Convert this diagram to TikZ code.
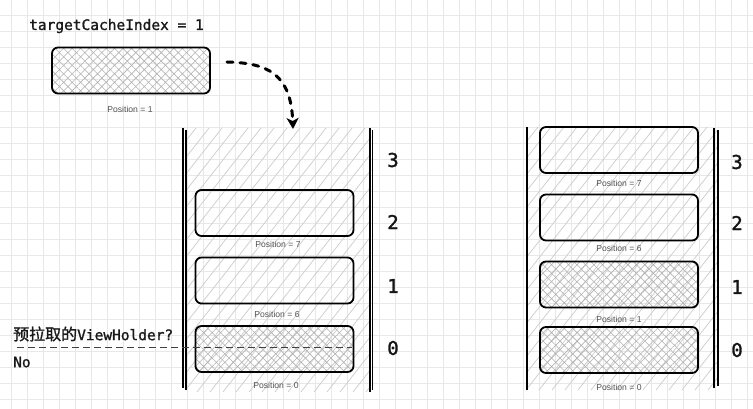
\documentclass[tikz,border=0pt]{standalone}
\usepackage{fontspec}
\usetikzlibrary{patterns.meta,arrows.meta}
\newfontfamily\monof[FakeBold=1.2]{DejaVu Sans Mono}
\newfontfamily\monobf[FakeBold=1.6]{DejaVu Sans Mono}
\newfontfamily\cjkf[FakeBold=1.2]{Noto Sans CJK SC}
\newfontfamily\labf{Liberation Sans}
\begin{document}
\begin{tikzpicture}[x=1pt,y=-1pt,
  slot/.style={draw=black, line width=1.8pt, rounded corners=6pt, minimum width=158pt, minimum height=46pt, inner sep=0pt},
  cached/.style={slot, pattern={Hatch[angle=45,distance=6pt,line width=0.6pt]}, pattern color=black!30},
  poslabel/.style={font=\labf\fontsize{8.6}{10}\selectfont, text=black!68, inner sep=0pt},
  idx/.style={font=\monobf\fontsize{19}{22}\selectfont, inner sep=0pt, text=black!92},
  monotext/.style={font=\monof\fontsize{14.5}{17}\selectfont, inner sep=0pt, anchor=west, text=black!90},
  gridline/.style={draw=black!9, line width=0.7pt},
  wall/.style={draw=black, line width=1.3pt},
  hatchline/.style={draw=black!20, line width=0.7pt},
]
\useasboundingbox (0,0) rectangle (753,409);
\fill[white] (0,0) rectangle (753,409);
\foreach \gx in {0,...,46} \draw[gridline] ({11.7+16*\gx},0) -- ({11.7+16*\gx},409);
\foreach \gy in {0,...,24} \draw[gridline] (0,{15+16*\gy}) -- (753,{15+16*\gy});

% stack backgrounds (diagonal hatch)
\begin{scope}
  \clip (186,128) rectangle (371,392);
  \foreach \k in {0,...,36} \draw[hatchline] ({-50+13*\k},392) -- ({-50+13*\k+207},128);
\end{scope}
\begin{scope}
  \clip (528,127) rectangle (717,390);
  \foreach \k in {0,...,36} \draw[hatchline] ({292+13*\k},390) -- ({292+13*\k+207},127);
\end{scope}

% walls
\draw[wall] (183,128) -- (183,388);
\draw[wall] (186,130) -- (186,390);
\draw[wall] (370,128) -- (370,392);
\draw[wall] (372.5,130) -- (372.5,390);
\draw[wall] (527,127) -- (527,390);
\draw[wall] (714,128) -- (714,388);
\draw[wall] (718,130) -- (718,386);

% title and pending holder
\node[monotext] (title) at (29,26) {targetCacheIndex = 1};
\node[cached] (pending) at (131,70.5) {};
\node[poslabel] (pendinglabel) at (130,109) {Position = 1};

% arrow
\coordinate (arrowstart) at (227,62);
\coordinate (arrowend) at (293,129);
\draw[line width=3pt, line cap=round, dash pattern=on 6pt off 7pt, -{Stealth[length=11pt,width=12pt,inset=3pt]}] (arrowstart) .. controls (268,63) and (291,74) .. (arrowend);

% left stack
\node[slot] (l2) at (274.5,213) {};
\node[poslabel] (l2lab) at (278,244) {Position = 7};
\node[slot] (l1) at (274.5,280.5) {};
\node[poslabel] (l1lab) at (277,314) {Position = 6};
\node[cached] (l0) at (274.5,349) {};
\node[poslabel] (l0lab) at (276,385) {Position = 0};
\node[idx] (ln3) at (393,160) {3};
\node[idx] (ln2) at (393,222) {2};
\node[idx] (ln1) at (393,286) {1};
\node[idx] (ln0) at (393,348) {0};

% question
\coordinate (q1) at (17,347);
\coordinate (q2) at (352,347);
\draw[draw=black!75, line width=0.9pt, dash pattern=on 7pt off 4pt] (q1) -- (q2);
\node[monotext] (question) at (13,334) {{\cjkf\fontsize{16}{18}\selectfont 预拉取的}ViewHolder?};
\node[monotext] (answer) at (13,362) {No};

% right stack
\node[slot] (r3) at (619,150) {};
\node[poslabel] (r3lab) at (619,183) {Position = 7};
\node[slot] (r2) at (619,217.5) {};
\node[poslabel] (r2lab) at (619,248) {Position = 6};
\node[cached] (r1) at (619,284.5) {};
\node[poslabel] (r1lab) at (619,319) {Position = 1};
\node[cached] (r0) at (619,350) {};
\node[poslabel] (r0lab) at (619,387) {Position = 0};
\node[idx] (rn3) at (737,162) {3};
\node[idx] (rn2) at (737,223) {2};
\node[idx] (rn1) at (737,287) {1};
\node[idx] (rn0) at (737,350) {0};
\end{tikzpicture}
\end{document}
